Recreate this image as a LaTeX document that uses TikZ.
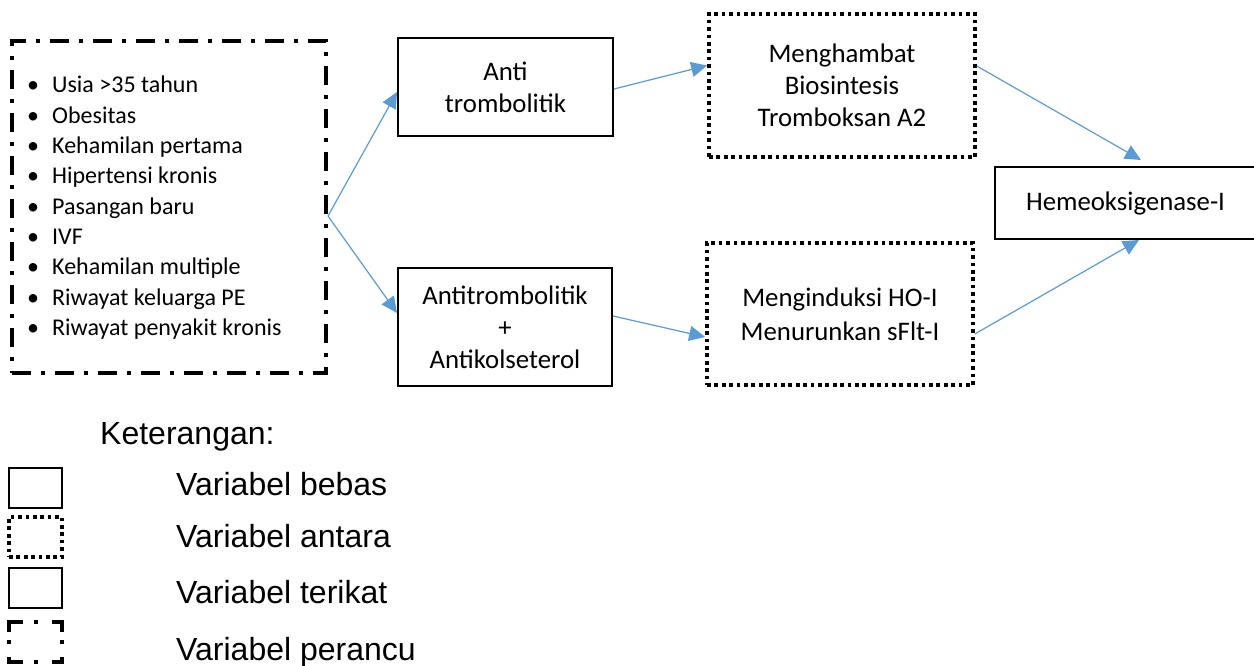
\documentclass[tikz,border=0pt]{standalone}
\usepackage{fontspec}
\setmainfont{Carlito}
\newfontfamily\legendfont{Liberation Sans}
\usetikzlibrary{arrows.meta}
\definecolor{arrowblue}{HTML}{5B9BD5}
\tikzset{
  solidbox/.style={draw, rectangle, line width=2pt, inner sep=0pt, align=center,
    font=\fontsize{26.8}{32}\selectfont},
  dotbox/.style={solidbox, line width=3.6pt, dash pattern=on 3.7pt off 3.7pt},
  dashdotbox/.style={draw, rectangle, line width=4pt, inner sep=0pt,
    dash pattern=on 19pt off 10pt on 4pt off 10pt},
  link/.style={draw=arrowblue, line width=1.2pt, -{Triangle[length=16pt,width=15pt]}},
  item/.style={anchor=base west, inner sep=0pt, font=\fontsize{24}{30}\selectfont},
  legtext/.style={anchor=base west, inner sep=0pt, font=\legendfont\fontsize{32}{38}\selectfont},
  legbox/.style={minimum width=53pt, minimum height=40pt, inner sep=0pt},
  legpiece/.style={line width=4pt}
}
\begin{document}
\begin{tikzpicture}[x=1pt, y=-1pt]
\useasboundingbox (0,0) rectangle (1254,666);

% confounding variables box
\node[dashdotbox, minimum width=314pt, minimum height=332pt] (risk) at (169,207) {};
\foreach \t [count=\i] in {Usia >35 tahun, Obesitas, Kehamilan pertama, Hipertensi kronis,
  Pasangan baru, IVF, Kehamilan multiple, Riwayat keluarga PE, Riwayat penyakit kronis}
  \node[item] (item\i) at (52,{93+30.3*(\i-1)}) {\llap{\textbullet\hspace{13pt}}\t};

% independent variables
\node[solidbox, minimum width=215pt, minimum height=98pt] (anti) at (505.5,87) {Anti\\trombolitik};
\node[solidbox, minimum width=214pt, minimum height=118pt] (antikol) at (505,327) {Antitrombolitik\\+\\Antikolseterol};

% intermediate variables
\node[dotbox, minimum width=266pt, minimum height=143pt] (hambat) at (842,85.5) {Menghambat\\Biosintesis\\Tromboksan A2};
\node[dotbox, minimum width=266pt, minimum height=142pt, font=\fontsize{26.8}{34}\selectfont] (induksi) at (840,314) {Menginduksi HO-I\\Menurunkan sFlt-I};

% dependent variable
\node[solidbox, minimum width=261pt, minimum height=72pt] (heme) at (1125.5,203) {Hemeoksigenase-I};

% connectors
\draw[link] ([yshift=-9pt]risk.east) -- ([yshift=-5pt]anti.west);
\draw[link] ([yshift=-9pt]risk.east) -- ([yshift=14pt]antikol.west);
\draw[link] ([yshift=-2pt]anti.east) -- ([yshift=20pt]hambat.west);
\draw[link] ([yshift=11pt]antikol.east) -- ([yshift=-23pt]induksi.west);
\draw[link] ([yshift=19.5pt]hambat.east) -- ([xshift=15.5pt,yshift=6pt]heme.north);
\draw[link] ([yshift=-20pt]induksi.east) -- ([xshift=13.5pt]heme.south);

% legend
\node[legtext] (ket) at (100,444) {Keterangan:};
\node[legbox, draw, line width=2pt] (lb1) at (35.5,488) {};
\node[legbox, draw, line width=3.6pt, dash pattern=on 3.7pt off 3.7pt] (lb2) at (35.5,537) {};
\node[legbox, draw, line width=2pt] (lb3) at (35.5,588) {};
\node[legbox] (lb4) at (35.5,642) {};
\draw[legpiece] ([xshift=14pt]lb4.north west) -- (lb4.north west) -- ([yshift=-10pt]lb4.north west);
\draw[legpiece] ([xshift=-10pt]lb4.north east) -- (lb4.north east) -- ([yshift=-10pt]lb4.north east);
\draw[legpiece] ([xshift=14pt]lb4.south west) -- (lb4.south west) -- ([yshift=5pt]lb4.south west);
\draw[legpiece] ([xshift=-10pt]lb4.south east) -- (lb4.south east) -- ([yshift=5pt]lb4.south east);
\draw[legpiece] ([xshift=-2pt]lb4.north) -- ([xshift=2pt]lb4.north);
\draw[legpiece] ([xshift=-2pt]lb4.south) -- ([xshift=2pt]lb4.south);
\draw[legpiece] ([yshift=-2pt]lb4.west) -- ([yshift=2pt]lb4.west);
\draw[legpiece] ([yshift=-2pt]lb4.east) -- ([yshift=2pt]lb4.east);
\node[legtext] (lt1) at (176,495) {Variabel bebas};
\node[legtext] (lt2) at (176,547) {Variabel antara};
\node[legtext] (lt3) at (176,603) {Variabel terikat};
\node[legtext] (lt4) at (176,660) {Variabel perancu};
\end{tikzpicture}
\end{document}
